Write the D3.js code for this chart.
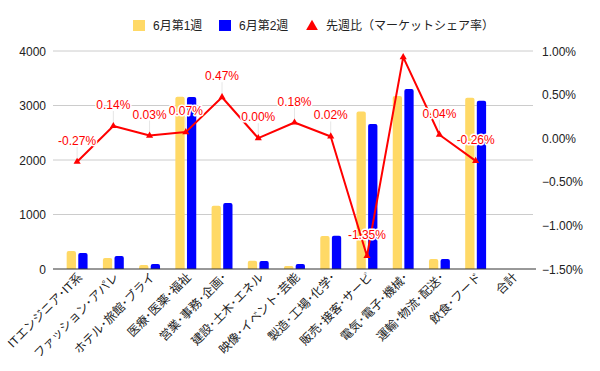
<!DOCTYPE html>
<html>
<head>
<meta charset="utf-8">
<script src="https://cdn.jsdelivr.net/npm/d3@7"></script>
<style>
  body { margin: 0; background: #fff; }
  text { font-family: "Liberation Sans", Arial, "Noto Sans CJK JP", sans-serif; }
</style>
</head>
<body>
<svg width="600" height="371"></svg>
<script>
const svg = d3.select("svg");

// chart data
const categories = [
    "ITエンジニア・IT系", "ファッション・アパレ", "ホテル・旅館・ブライ", "医療・医薬・福祉",
    "営業・事務・企画・", "建設・土木・エネル", "映像・イベント・芸能", "製造・工場・化学・",
    "販売・接客・サービ", "電気・電子・機械・", "運輸・物流・配送・", "飲食・フード", "合計"
];
const seriesNames = ["6月第1週", "6月第2週"];
const week1 = [330, 200, 75, 3160, 1160, 150, 55, 605, 2890, 3175, 185, 3140, null];
const week2 = [295, 240, 92, 3155, 1210, 145, 92, 610, 2660, 3305, 185, 3085, null];
const shareChange = [-0.27, 0.14, 0.03, 0.07, 0.47, 0.00, 0.18, 0.02, -1.35, 0.93, 0.04, -0.26, null];
const shareLabels = ["-0.27%", "0.14%", "0.03%", "0.07%", "0.47%", "0.00%", "0.18%", "0.02%", "-1.35%", null, "0.04%", "-0.26%", null];
const leftTicks = [0, 1000, 2000, 3000, 4000];
const rightTicks = [-1.5, -1.0, -0.5, 0, 0.5, 1.0];
const lineName = "先週比（マーケットシェア率）";

const colors = ["#ffd966", "#0000ff"];
const lineColor = "#ff0000";

const plotTop = 51, plotBottom = 269;

const x = d3.scaleBand().domain(categories).range([59, 530]);
const xSeries = d3.scaleBand().domain(seriesNames).range([-10.45, 10.45]).paddingInner(0.2);
const yLeft = d3.scaleLinear().domain([0, 4000]).range([plotBottom, plotTop]);
const yRight = d3.scaleLinear().domain([-1.5, 1.0]).range([plotBottom, plotTop]);

const cx = d => x(d) + x.bandwidth() / 2;

// gridlines
svg.append("g").selectAll("line").data(leftTicks.slice(1))
    .enter().append("line")
    .attr("x1", 53).attr("x2", 533)
    .attr("y1", d => yLeft(d)).attr("y2", d => yLeft(d))
    .attr("stroke", "#cccccc").attr("stroke-width", 1);

// left axis labels
svg.append("g").selectAll("text").data(leftTicks)
    .enter().append("text")
    .attr("x", 46).attr("y", d => yLeft(d) + 4.5)
    .attr("text-anchor", "end")
    .attr("font-size", 12).attr("fill", "#222")
    .text(d => d);

// right axis labels
svg.append("g").selectAll("text").data(rightTicks)
    .enter().append("text")
    .attr("x", 542).attr("y", d => yRight(d) + 4.5)
    .attr("font-size", 12).attr("fill", "#222")
    .text(d => d3.format(".2f")(d) + "%");

// bars with slightly rounded tops
const barPath = (x0, w, y0, y1) => {
    const r = Math.min(2, (y1 - y0) / 2);
    return `M${x0},${y1}V${y0 + r}Q${x0},${y0} ${x0 + r},${y0}H${x0 + w - r}Q${x0 + w},${y0} ${x0 + w},${y0 + r}V${y1}Z`;
};
[week1, week2].forEach((vals, si) => {
    svg.append("g").selectAll("path")
        .data(categories.map((c, i) => ({ c, v: vals[i] })).filter(d => d.v != null))
        .enter().append("path")
        .attr("fill", colors[si])
        .attr("d", d => barPath(cx(d.c) + xSeries(seriesNames[si]), xSeries.bandwidth(), yLeft(d.v), yLeft(0)));
});

// baseline
svg.append("line")
    .attr("x1", 53).attr("x2", 536)
    .attr("y1", plotBottom).attr("y2", plotBottom)
    .attr("stroke", "#333").attr("stroke-width", 1);

// line series
const pts = categories.map((c, i) => ({ c, v: shareChange[i], label: shareLabels[i] })).filter(d => d.v != null);

// leader lines for labels
svg.append("g").selectAll("line").data(pts.filter(d => d.label))
    .enter().append("line")
    .attr("x1", d => cx(d.c)).attr("x2", d => cx(d.c))
    .attr("y1", d => yRight(d.v) - 3).attr("y2", d => yRight(d.v) - 15)
    .attr("stroke", "#e6e6e6").attr("stroke-width", 1);

svg.append("path").datum(pts)
    .attr("fill", "none")
    .attr("stroke", lineColor).attr("stroke-width", 2)
    .attr("stroke-linejoin", "round")
    .attr("d", d3.line().x(d => cx(d.c)).y(d => yRight(d.v)));

svg.append("g").selectAll("path").data(pts)
    .enter().append("path")
    .attr("fill", lineColor)
    .attr("transform", d => `translate(${cx(d.c)},${yRight(d.v)})`)
    .attr("d", d3.symbol(d3.symbolTriangle, 22));

svg.append("g").selectAll("text").data(pts.filter(d => d.label))
    .enter().append("text")
    .attr("x", d => cx(d.c)).attr("y", d => yRight(d.v) - 17)
    .attr("text-anchor", "middle")
    .attr("font-size", 12).attr("fill", lineColor)
    .attr("stroke", "#fff").attr("stroke-width", 3).attr("paint-order", "stroke")
    .attr("stroke-linejoin", "round")
    .text(d => d.label);

// x axis labels (middle dot drawn narrow, as in the original)
svg.append("g").selectAll("text").data(categories)
    .enter().append("text")
    .attr("transform", d => `translate(${cx(d) + 6},${278}) rotate(-45)`)
    .attr("text-anchor", "end")
    .attr("font-size", 12).attr("fill", "#222")
    .text(d => d.replace(/・/g, "･"));

// legend
const legend = svg.append("g");
[[133, 0], [219, 1]].forEach(([lx, si]) => {
    legend.append("rect").attr("x", lx).attr("y", 20).attr("width", 12).attr("height", 11).attr("fill", colors[si]);
    legend.append("text").attr("x", lx + 20).attr("y", 30).attr("font-size", 12).attr("fill", "#222").text(seriesNames[si]);
});
legend.append("path")
    .attr("transform", "translate(312,26.5)")
    .attr("fill", lineColor)
    .attr("d", d3.symbol(d3.symbolTriangle, 60));
legend.append("text").attr("x", 326).attr("y", 30).attr("font-size", 12).attr("fill", "#222").text(lineName);
</script>
</body>
</html>
